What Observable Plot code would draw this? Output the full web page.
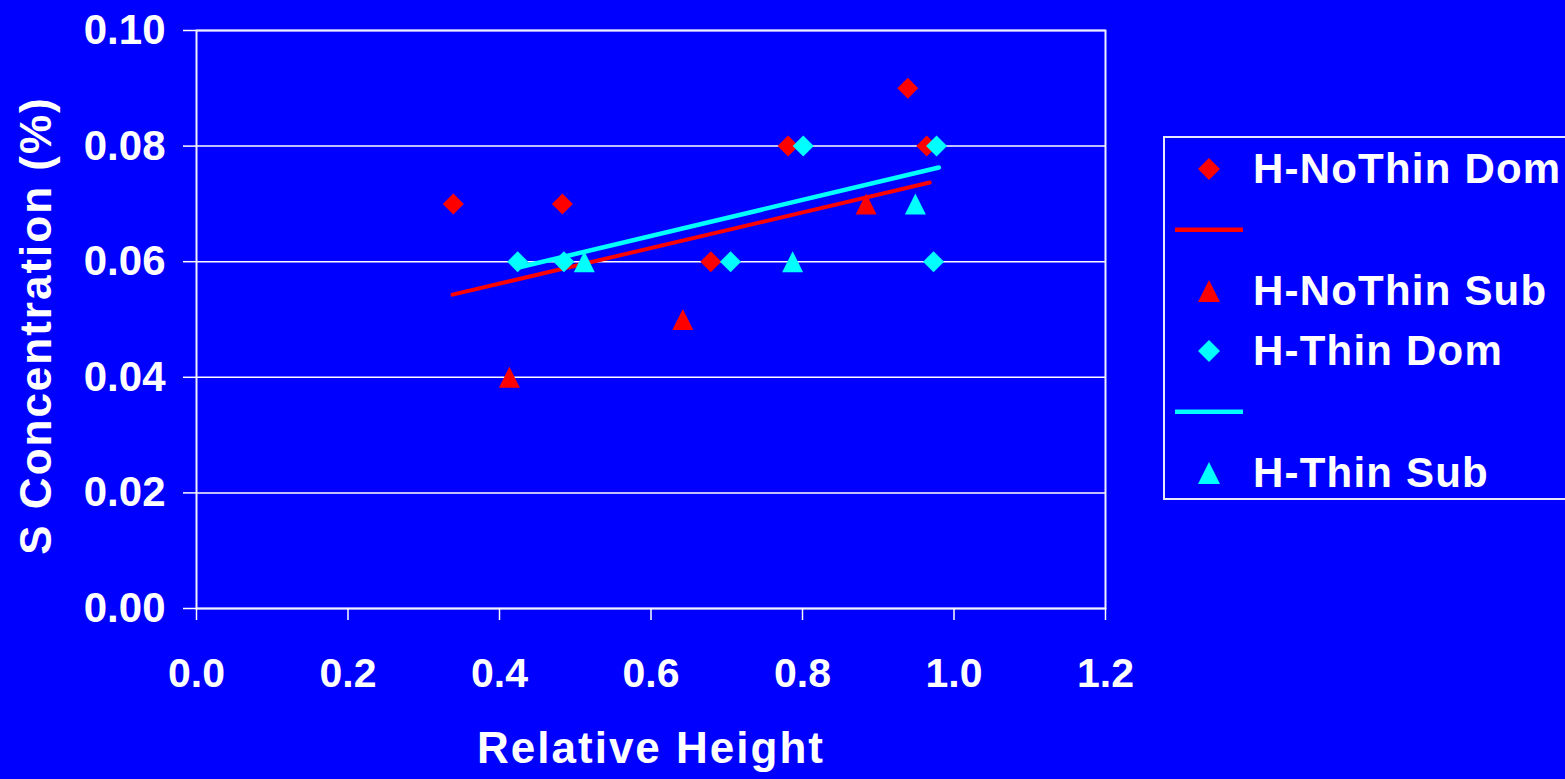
<!DOCTYPE html>
<html>
<head>
<meta charset="utf-8">
<script src="https://cdn.jsdelivr.net/npm/d3@7"></script>
<script src="https://cdn.jsdelivr.net/npm/@observablehq/plot@0.6"></script>
<style>
  html, body { margin: 0; padding: 0; background: #0000ff; overflow: hidden; }
  #chart { position: relative; width: 1565px; height: 779px; background: #0000ff; }
  #chart svg { display: block; }
  .legend {
    position: absolute; left: 1163px; top: 136px; width: 440px; height: 364px;
    box-sizing: border-box; border: 2px solid #e6e6ff;
  }
  .legend .row {
    position: absolute; left: 0; height: 60.8px; display: flex; align-items: center;
    font-family: "Liberation Sans", Arial, sans-serif; font-weight: bold; font-size: 42px;
    letter-spacing: 1.2px; color: #ffffff; white-space: nowrap;
  }
  .legend .key { width: 88px; display: flex; justify-content: center; align-items: center; }
  .legend .key svg { display: block; }
</style>
</head>
<body>
<div id="chart"></div>
<script>
// S concentration against relative height, four crown groups
const noThinDomX = [0.339, 0.483, 0.679, 0.781, 0.939, 0.964];
const noThinDomY = [0.07, 0.07, 0.06, 0.08, 0.09, 0.08];
const noThinSubX = [0.413, 0.642, 0.884];
const noThinSubY = [0.04, 0.05, 0.07];
const thinDomX = [0.424, 0.485, 0.705, 0.801, 0.973, 0.977];
const thinDomY = [0.06, 0.06, 0.06, 0.08, 0.06, 0.08];
const thinSubX = [0.512, 0.787, 0.949];
const thinSubY = [0.06, 0.06, 0.07];

// linear trend lines (start and end points)
const noThinTrendX = [0.338, 0.968];
const noThinTrendY = [0.0543, 0.0737];
const thinTrendX = [0.425, 0.98];
const thinTrendY = [0.059, 0.0763];

const xTicks = [0, 0.2, 0.4, 0.6, 0.8, 1.0, 1.2];
const yTicks = [0, 0.02, 0.04, 0.06, 0.08, 0.10];

const xTitle = "Relative Height";
const yTitle = "S Concentration (%)";

const legendLabels = ["H-NoThin Dom", "", "H-NoThin Sub", "H-Thin Dom", "", "H-Thin Sub"];
const legendKinds = ["diamond", "line", "triangle", "diamond", "line", "triangle"];
const legendColors = ["#ff0000", "#ff0000", "#ff0000", "#00ffff", "#00ffff", "#00ffff"];

const RED = "#ff0000";
const CYAN = "#00ffff";

// square diamond and upright triangle, both centred on their box
const diamond = {
  draw(ctx, size) {
    const h = Math.sqrt(size / Math.PI);
    ctx.moveTo(0, -h); ctx.lineTo(h, 0); ctx.lineTo(0, h); ctx.lineTo(-h, 0); ctx.closePath();
  }
};
const triangle = {
  draw(ctx, size) {
    const h = Math.sqrt(size / Math.PI);
    ctx.moveTo(0, -h); ctx.lineTo(h, h); ctx.lineTo(-h, h); ctx.closePath();
  }
};

const pts = (xs, ys) => xs.map((x, i) => ({x, y: ys[i]}));

const font = "'Liberation Sans', Arial, Helvetica, sans-serif";

const plot = Plot.plot({
  width: 1565,
  height: 779,
  marginLeft: 196,
  marginRight: 460,
  marginTop: 30,
  marginBottom: 171,
  style: {background: "transparent", color: "#ffffff", fontFamily: font, fontWeight: "bold", overflow: "visible"},
  x: {domain: [0, 1.2]},
  y: {domain: [0, 0.1]},
  marks: [
    Plot.gridY(yTicks, {stroke: "#ffffff", strokeOpacity: 1, strokeWidth: 1.5}),
    Plot.frame({stroke: "#f0f0ff", strokeWidth: 2}),
    Plot.axisX(xTicks, {
      tickSize: 12, tickPadding: 37, tickFormat: d3.format(".1f"),
      fontSize: 41, stroke: "#ffffff", strokeWidth: 1.5, fill: "#ffffff", label: null
    }),
    Plot.axisY(yTicks, {
      tickSize: 13, tickPadding: 18, tickFormat: d3.format(".2f"),
      fontSize: 42, stroke: "#ffffff", strokeWidth: 1.5, fill: "#ffffff", label: null
    }),
    Plot.text([xTitle], {
      frameAnchor: "bottom", textAnchor: "middle", dy: 154, fontSize: 44, fill: "#ffffff", fontWeight: "bold"
    }),
    Plot.text([yTitle], {
      frameAnchor: "left", textAnchor: "middle", dx: -160, dy: 6, rotate: -90, fontSize: 44, fill: "#ffffff", fontWeight: "bold"
    }),
    Plot.line(pts(noThinTrendX, noThinTrendY), {x: "x", y: "y", stroke: RED, strokeWidth: 4}),
    Plot.line(pts(thinTrendX, thinTrendY), {x: "x", y: "y", stroke: CYAN, strokeWidth: 4.5}),
    Plot.dot(pts(noThinDomX, noThinDomY), {x: "x", y: "y", symbol: diamond, r: 10.5, fill: RED, stroke: "none"}),
    Plot.dot(pts(noThinSubX, noThinSubY), {x: "x", y: "y", symbol: triangle, r: 10.5, fill: RED, stroke: "none"}),
    Plot.dot(pts(thinDomX, thinDomY), {x: "x", y: "y", symbol: diamond, r: 10.5, fill: CYAN, stroke: "none"}),
    Plot.dot(pts(thinSubX, thinSubY), {x: "x", y: "y", symbol: triangle, r: 10.5, fill: CYAN, stroke: "none"})
  ]
});

// slightly wider tracking on the two axis titles
d3.select(plot).selectAll("text")
  .filter(function() { return this.textContent === xTitle || this.textContent === yTitle; })
  .style("letter-spacing", "2px");

const chart = document.getElementById("chart");
chart.appendChild(plot);

// legend box on the right
const legend = document.createElement("div");
legend.className = "legend";
legendLabels.forEach((label, i) => {
  const row = document.createElement("div");
  row.className = "row";
  row.style.top = (0.6 + i * 60.8) + "px";
  const key = document.createElement("div");
  key.className = "key";
  const kind = legendKinds[i];
  const color = legendColors[i];
  let svg;
  if (kind === "line") {
    svg = `<svg width="68" height="6"><rect x="0" y="0.5" width="68" height="4.5" fill="${color}"/></svg>`;
  } else if (kind === "diamond") {
    svg = `<svg width="22" height="22"><polygon points="11,0 22,11 11,22 0,11" fill="${color}"/></svg>`;
  } else {
    svg = `<svg width="22" height="22"><polygon points="11,0 22,22 0,22" fill="${color}"/></svg>`;
  }
  key.innerHTML = svg;
  row.appendChild(key);
  const text = document.createElement("span");
  text.textContent = label;
  row.appendChild(text);
  legend.appendChild(row);
});
chart.appendChild(legend);
</script>
</body>
</html>
